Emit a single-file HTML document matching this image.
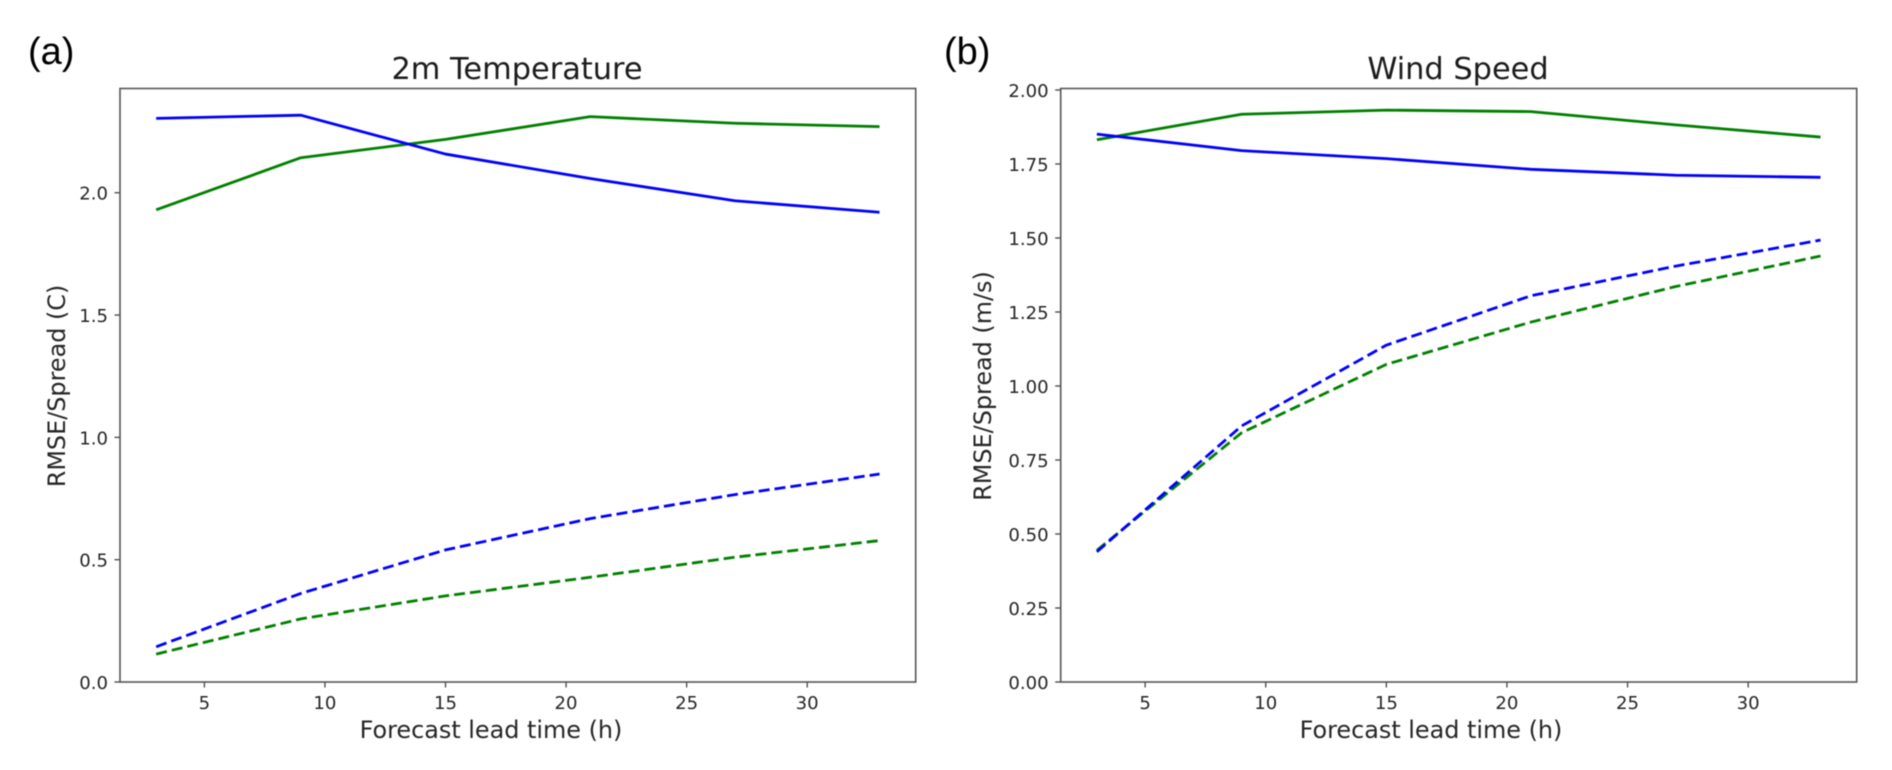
<!DOCTYPE html>
<html lang="en">
<head>
<meta charset="utf-8">
<title>RMSE and spread by forecast lead time</title>
<style>
  html, body { margin: 0; padding: 0; background: #fff; }
  body { width: 1892px; height: 770px; overflow: hidden; }
  svg { display: block; filter: blur(0.5px); }
  text { font-family: "DejaVu Sans", "Liberation Sans", sans-serif; fill: #262626; }
  .panel-letter { font-family: "Liberation Sans", sans-serif; font-size: 38px; fill: #000; }
  .title { font-size: 30.4px; text-anchor: middle; fill: #1c1c1c; }
  .axis-label { font-size: 23.9px; text-anchor: middle; }
  .tick-label { font-size: 18.1px; }
  .spine { stroke: #555; stroke-width: 1.6; fill: none; }
  .tick { stroke: #444; stroke-width: 1.3; }
</style>
</head>
<body>
<svg id="fig" width="1892" height="770" viewBox="0 0 1892 770" xmlns="http://www.w3.org/2000/svg">
  <rect width="1892" height="770" fill="#fff"/>
  <text class="panel-letter" x="28" y="64">(a)</text>
  <text class="panel-letter" x="944" y="64">(b)</text>

  <text class="title" x="517" y="79">2m Temperature</text>
  <text class="axis-label" x="491" y="738">Forecast lead time (h)</text>
  <text class="axis-label" transform="translate(65 386) rotate(-90)">RMSE/Spread (C)</text>

  <text class="title" x="1458" y="79">Wind Speed</text>
  <text class="axis-label" x="1431" y="738">Forecast lead time (h)</text>
  <text class="axis-label" transform="translate(991 386) rotate(-90)">RMSE/Spread (m/s)</text>
</svg>
<script>
// Shared categories and tick labels
const leadHours = [3, 9, 15, 21, 27, 33];
const xTickValues = [5, 10, 15, 20, 25, 30];
const tempTickValues = [0, 0.5, 1, 1.5, 2];
const tempTickLabels = ['0.0', '0.5', '1.0', '1.5', '2.0'];
const windTickValues = [0, 0.25, 0.5, 0.75, 1, 1.25, 1.5, 1.75, 2];
const windTickLabels = ['0.00', '0.25', '0.50', '0.75', '1.00', '1.25', '1.50', '1.75', '2.00'];

// Panel (a) series: 2m temperature
const tempRmseBlue = [2.304, 2.317, 2.158, 2.058, 1.967, 1.920];
const tempRmseGreen = [1.930, 2.143, 2.218, 2.311, 2.284, 2.270];
const tempSpreadBlue = [0.144, 0.362, 0.540, 0.668, 0.766, 0.850];
const tempSpreadGreen = [0.114, 0.258, 0.352, 0.428, 0.510, 0.578];

// Panel (b) series: wind speed
const windRmseBlue = [1.851, 1.795, 1.768, 1.732, 1.712, 1.705];
const windRmseGreen = [1.832, 1.918, 1.932, 1.927, 1.882, 1.841];
const windSpreadBlue = [0.440, 0.865, 1.138, 1.305, 1.405, 1.493];
const windSpreadGreen = [0.445, 0.842, 1.073, 1.216, 1.336, 1.439];

// Axis domains
const xDomain = [1.5, 34.5];
const tempYDomain = [0, 2.426];
const windYDomain = [0, 2.005];

const NS = 'http://www.w3.org/2000/svg';
const svg = document.getElementById('fig');

function node(tag, attrs, parent, text) {
  const el = document.createElementNS(NS, tag);
  for (const k in attrs) el.setAttribute(k, attrs[k]);
  if (text !== undefined) el.textContent = text;
  parent.appendChild(el);
  return el;
}

function drawPanel(prefix, box, yDomain, yTicks, yLabels, series) {
  const xScale = h => box.left + (h - xDomain[0]) / (xDomain[1] - xDomain[0]) * (box.right - box.left);
  const yScale = v => box.bottom - (v - yDomain[0]) / (yDomain[1] - yDomain[0]) * (box.bottom - box.top);

  const group = node('g', {}, svg);
  
  

  xTickValues.forEach(t => {
    const px = xScale(t);
    const mark = node('line', { class: 'tick', x1: px, x2: px, y1: box.bottom, y2: box.bottom + 5.5 }, group);
    
    
    const lab = node('text', { class: 'tick-label', x: px, y: box.bottom + 27, 'text-anchor': 'middle' }, group, String(t));
    
    
  });

  yTicks.forEach((t, i) => {
    const py = yScale(t);
    const mark = node('line', { class: 'tick', x1: box.left - 5.5, x2: box.left, y1: py, y2: py }, group);
    
    
    const lab = node('text', { class: 'tick-label', x: box.left - 12, y: py + 7, 'text-anchor': 'end' }, group, yLabels[i]);
    
    
  });

  series.forEach(s => {
    const pts = leadHours.map((h, i) => xScale(h).toFixed(2) + ',' + yScale(s.values[i]).toFixed(2)).join(' ');
    const line = node('polyline', {
      points: pts, fill: 'none', stroke: s.color, 'stroke-width': 2.8,
      'stroke-linejoin': 'round', 'stroke-dasharray': s.dashed ? '11 5' : 'none'
    }, group);
    
    
  });

  const frame = node('rect', {
    class: 'spine', x: box.left, y: box.top,
    width: box.right - box.left, height: box.bottom - box.top
  }, group);
  
  
}

drawPanel('panel-a', { left: 120, right: 915.7, top: 88.5, bottom: 682 }, tempYDomain, tempTickValues, tempTickLabels, [
  { name: 'rmse-green-line', values: tempRmseGreen, color: '#008000', dashed: false },
  { name: 'rmse-blue-line', values: tempRmseBlue, color: '#0000ff', dashed: false },
  { name: 'spread-green-line', values: tempSpreadGreen, color: '#008000', dashed: true },
  { name: 'spread-blue-line', values: tempSpreadBlue, color: '#0000ff', dashed: true }
]);

drawPanel('panel-b', { left: 1060.7, right: 1856.7, top: 88.5, bottom: 682 }, windYDomain, windTickValues, windTickLabels, [
  { name: 'rmse-green-line', values: windRmseGreen, color: '#008000', dashed: false },
  { name: 'rmse-blue-line', values: windRmseBlue, color: '#0000ff', dashed: false },
  { name: 'spread-green-line', values: windSpreadGreen, color: '#008000', dashed: true },
  { name: 'spread-blue-line', values: windSpreadBlue, color: '#0000ff', dashed: true }
]);
</script>
</body>
</html>
